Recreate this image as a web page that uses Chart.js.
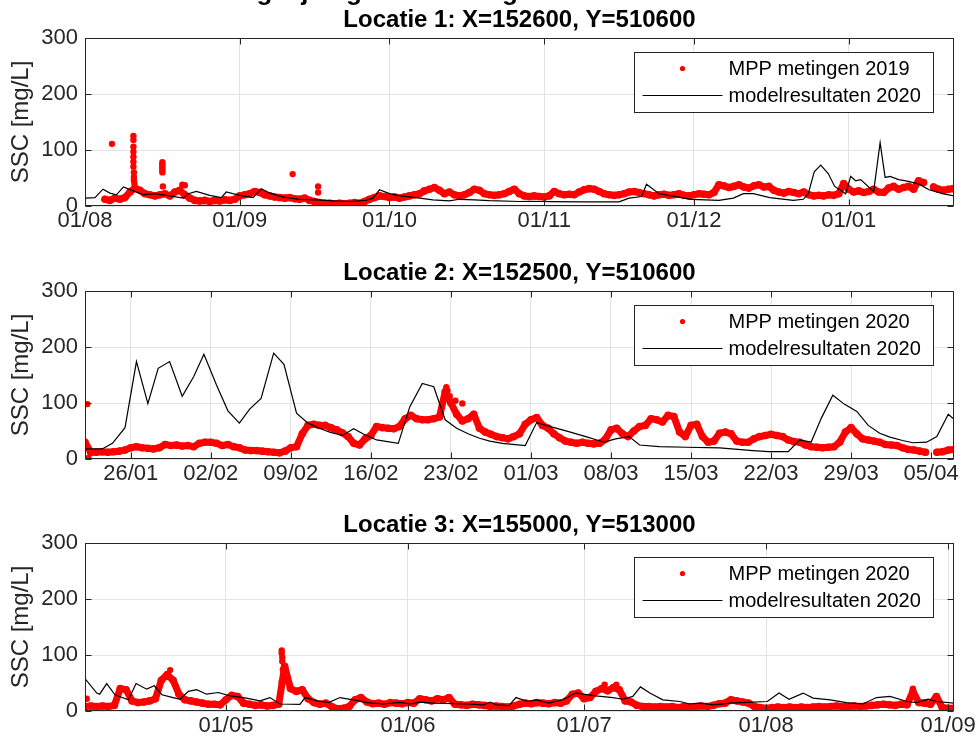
<!DOCTYPE html>
<html>
<head>
<meta charset="utf-8">
<script src="https://cdn.jsdelivr.net/npm/chart.js@4.4.1/dist/chart.umd.min.js"></script>
<style>
  html, body { margin: 0; padding: 0; background: #fff; }
  #wrap { position: relative; width: 976px; height: 742px; overflow: hidden; }
  canvas { position: absolute; left: 0; }
</style>
</head>
<body>
<div id="wrap">
  <canvas id="c1" width="976" height="237" style="top:0px"></canvas>
  <canvas id="c2" width="976" height="237" style="top:253px"></canvas>
  <canvas id="c3" width="976" height="237" style="top:505px"></canvas>
</div>
<script>
(() => {
  'use strict'

  const figTitle = 'Vergelijking MPP metingen en modelresultaten'
  const panelTitles = ['Locatie 1: X=152600, Y=510600', 'Locatie 2: X=152500, Y=510600', 'Locatie 3: X=155000, Y=513000']
  const measLabels = ['MPP metingen 2019', 'MPP metingen 2020', 'MPP metingen 2020']
  const modelLabel = 'modelresultaten 2020'
  const yLabel = 'SSC [mg/L]'
  const yTicks = [0, 100, 200, 300]

  // x range per panel: first date and length in days
  const startDates = ['2019-08-01', '2020-01-22', '2020-04-07']
  const spanDays = [174.1, 76, 148]
  const xTicks1 = ['2019-08-01', '2019-09-01', '2019-10-01', '2019-11-01', '2019-12-01', '2020-01-01']
  const xTicks2 = ['2020-01-26', '2020-02-02', '2020-02-09', '2020-02-16', '2020-02-23', '2020-03-01',
    '2020-03-08', '2020-03-15', '2020-03-22', '2020-03-29', '2020-04-05']
  const xTicks3 = ['2020-05-01', '2020-06-01', '2020-07-01', '2020-08-01', '2020-09-01']

  // MPP measurements, sampled from the plot (offset of first sample, step in days)
  const meas1Start = 4
  const meas1Step = 1
  const meas1 = [
    12, 10, 14, 12, 15, 25, 32, 28, 22, 20,
    18, 20, 22, 18, 25, 28, 20, 14, 10, 9,
    10, 8, 10, 9, 11, 10, 12, 18, 20, 22,
    26, 24, 20, 18, 16, 15, 14, 15, 13, 12,
    14, 10, 8, 6, 5, 5, 4, 5, 4, 5,
    6, 5, 8, 12, 15, 18, 17, 15, 16, 14,
    16, 18, 20, 22, 27, 30, 33, 28, 22, 25,
    20, 18, 20, 24, 30, 28, 22, 20, 19, 20,
    22, 26, 30, 22, 18, 17, 18, 17, 16, 18,
    26, 22, 20, 21, 20, 25, 29, 31, 30, 26,
    22, 20, 19, 20, 22, 25, 26, 24, 22, 20,
    18, 20, 21, 19, 20, 22, 19, 18, 20, 22,
    21, 20, 24, 38, 36, 33, 35, 38, 34, 32,
    36, 38, 34, 35, 28, 25, 23, 26, 24, 22,
    25, 20, 18, 19, 18, 20, 19, 22, 40, 30,
    25, 27, 24, 26, 30, 25, 24, 32, 35, 30,
    33, 35, 30, 45, 42, null, 34, 30, 28, 30, 31
  ]
  const meas2Start = 0
  const meas2Step = 0.5
  const meas2 = [
    30, 12, 12, 13, 12, 13, 14, 16, 20, 22,
    20, 19, 18, 20, 26, 24, 25, 23, 24, 22,
    28, 30, 30, 28, 24, 26, 22, 20, 16, 15,
    15, 14, 13, 12, 11, 14, 20, 22, 45, 60,
    62, 60, 60, 56, 52, 47, 40, 28, 25, 36,
    42, 58, 56, 55, 54, 58, 72, 78, 72, 70,
    70, 72, 75, 120, 100, 80, 68, 72, 80, 55,
    48, 44, 40, 38, 36, 40, 45, 62, 70, 74,
    60, 55, 45, 38, 32, 30, 28, 30, 28, 27,
    28, 35, 52, 55, 45, 40, 50, 58, 60, 72,
    70, 66, 78, 76, 48, 40, 60, 62, 40, 30,
    32, 46, 48, 45, 32, 30, 30, 36, 40, 42,
    44, 42, 40, 34, 31, 30, 25, 22, 21, 20,
    21, 22, 30, 48, 56, 45, 36, 34, 32, 30,
    26, 25, 24, 20, 17, 16, 14, 12, null, 12,
    13, 16, 17
  ]
  const meas3Start = 0
  const meas3Step = 1
  const meas3 = [
    8, 9, 8, 9, 8, 10, 40, 38, 18, 15,
    16, 18, 22, 55, 65, 55, 30, 20, 18, 16,
    14, 12, 12, 11, 20, 28, 26, 14, 12, 10,
    11, 9, 10, 12, 80, 40, 35, 38, 22, 15,
    12, 14, 8, 4, 5, 8, 20, 24, 16, 13,
    14, 12, 15, 14, 13, 15, 14, 22, 20, 18,
    22, 20, 24, 12, 11, 10, 12, 11, 10, 8,
    9, 8, 7, 9, 12, 14, 13, 15, 14, 13,
    15, 14, 18, 30, 32, 22, 24, 35, 40, 36,
    42, 38, 18, 16, 10, 8, 8, 7, 8, 7,
    8, 6, 8, 7, 8, 9, 8, 10, 13, 14,
    20, 18, 16, 14, 8, 6, 5, 6, 7, 6,
    7, 6, 7, 6, 7, 8, 7, 8, 9, 8,
    8, 9, 8, 9, 10, 11, 12, 11, 10, 12,
    11, 35, 15, 14, 12, 26, 6, 5, 5
  ]

  // isolated measurement dots [day offset, value]
  const extra1 = [[5.4, 111], [9.7, 125], [9.7, 118], [9.7, 106], [9.7, 97], [9.7, 88], [9.7, 79], [9.7, 70],
    [9.8, 60], [9.8, 52], [9.8, 46], [9.9, 40], [15.5, 78], [15.5, 74], [15.5, 71], [15.5, 67], [15.5, 64],
    [15.5, 60], [15.6, 35], [19.5, 38], [20, 37], [41.6, 57], [46.7, 35], [46.7, 24]]
  const extra2 = [[0.05, 28], [0.2, 98], [0.3, 2], [31.6, 128], [31.7, 122], [31.9, 112], [32.4, 104], [33, 99]]
  const extra3 = [[0.3, 22], [33.5, 108], [33.5, 103], [33.6, 96], [33.6, 89], [33.7, 74], [33.5, 52],
    [14.5, 73], [88.5, 47], [90.5, 47], [141, 40]]

  // model results: day offsets and values
  const modelDays1 = [0, 2, 3.6, 5, 6.3, 7.7, 11.7, 13.7, 16.3, 19.7, 20.7, 22.3, 25, 27.3, 28.3, 31, 33.7, 35.3,
    37, 39.7, 43, 46.3, 49.7, 53, 56.3, 57.7, 59, 61, 63, 66.3, 69.7, 73, 75, 78, 81, 87, 89, 93.5, 100, 107,
    109, 111.5, 112.5, 115, 117.5, 121.5, 127, 129.9, 131.9, 133.9, 137.2, 141.9, 143.9, 144.9, 146.1, 147.4,
    148.9, 150.2, 152.4, 153.4, 154.4, 155.4, 158, 159.3, 160.3, 161.3, 163, 165, 167.1, 169.1, 171.8, 174.1]
  const model1 = [14, 15, 30, 23, 20, 34, 20, 22, 19, 14, 22, 26, 19, 15, 25, 19, 15, 31,
    23, 16, 12, 11, 9, 8, 10, 14, 29, 22, 18, 15, 11, 9, 12, 11, 9.5, 8, 8.5, 7.8, 7.5, 7.5,
    14, 17, 39, 22, 18, 12, 10, 14, 22, 22, 15, 10, 12, 22, 61, 73,
    58, 35, 22, 53, 45, 47, 26, 113, 51, 53, 47, 44, 39, 29, 22, 18]
  const modelDays2 = [0, 1.5, 2.4, 3.5, 4.5, 5.5, 6.4, 7.4, 8.5, 9.5, 10.4, 11.5, 12.5, 13.5, 14.4, 15.4, 16.5,
    17.4, 18.5, 19.5, 20.5, 21.4, 22.5, 23.5, 24.5, 25.5, 27.4, 28.4, 29.5, 30.5, 31.5, 32.5, 33.5, 34.5, 35.4,
    36.5, 38.5, 39.5, 40.3, 42.3, 43.8, 45.4, 46.4, 47.6, 48.5, 50.2, 52.6, 55.5, 58.4, 59.8, 61.5, 62.5, 63.5,
    64.4, 65.4, 66.4, 67.5, 68.5, 69.5, 70.4, 71.5, 72.4, 73.6, 74.5, 75.5, 76]
  const model2 = [18, 18, 28, 56, 174, 99, 162, 174, 112, 147, 187, 132, 86, 64, 89, 108, 189,
    169, 82, 64, 55, 48, 42, 54, 43, 34, 28, 93, 135, 129, 70, 55, 45, 37, 32,
    28, 24, 65, 60, 49, 40, 30, 36, 40, 25, 22, 21, 20, 15, 13, 13, 34, 30,
    73, 114, 98, 85, 60, 46, 39, 33, 29, 30, 40, 80, 71]
  const modelDays3 = [0, 2, 2.5, 3.7, 5.1, 7.4, 8.7, 10.5, 11.8, 13.1, 15, 16.2, 17.6, 19, 20.7, 22.7, 24.7,
    27.5, 29.8, 31.5, 33.2, 36.6, 37.5, 39.5, 41.5, 43.4, 45.7, 48, 50.8, 53.7, 55.4, 57, 59.4, 65, 67.9, 69,
    70, 72.2, 73.4, 75.4, 76.8, 79, 81.3, 83.6, 84.8, 87, 89.9, 91.6, 93.3, 94.6, 96.2, 98.4, 101.3, 103, 104.7,
    107, 109.9, 112.7, 116.2, 118.2, 119.9, 122.3, 124, 126.9, 129.7, 132.5, 134.8, 137.1, 140, 141.6, 143.6,
    145, 148]
  const model3 = [58, 32, 30, 49, 29, 20, 49, 39, 45, 29, 24, 21, 35, 38, 30, 33, 27,
    23, 18, 24, 12.5, 12, 24, 18, 15, 24, 20, 15, 12.5, 15.5, 12.5, 16, 14, 12.5, 11, 16,
    11, 9.5, 24, 17, 20, 14, 20, 32, 30, 27, 24, 21, 26, 43, 32, 20, 17, 12.5, 14,
    11, 14, 15.5, 17, 32, 21, 32, 23, 20, 15, 12.5, 24, 26, 17, 15, 21,
    17, 14]

  const red = '#ff0000'
  const axisColor = '#262626'
  const gridColor = '#e3e3e3'
  const fontFamily = '"Liberation Sans", Arial, Helvetica, sans-serif'

  Chart.defaults.font.family = fontFamily

  const dayNum = s => Date.UTC(+s.slice(0, 4), +s.slice(5, 7) - 1, +s.slice(8, 10)) / 864e5
  const pad2 = n => String(n).padStart(2, '0')
  const fmtTick = v => {
    const d = new Date(Math.round(v) * 864e5)
    return pad2(d.getUTCDate()) + '/' + pad2(d.getUTCMonth() + 1)
  }

  // box, inward ticks, boxed legend and the clipped figure title (MATLAB look)
  const matlabAxes = {
    id: 'matlabAxes',
    afterDatasetsDraw (chart, args, opts) {
      const { ctx, chartArea: a, scales } = chart
      const L = Math.round(a.left) + 0.5
      const T = Math.round(a.top) + 0.5
      const R = Math.round(a.right) - 0.5
      const B = Math.round(a.bottom) - 0.5
      const tl = 6
      ctx.save()
      ctx.strokeStyle = axisColor
      ctx.lineWidth = 1
      ctx.beginPath()
      scales.x.ticks.forEach(t => {
        const px = Math.round(scales.x.getPixelForValue(t.value)) + 0.5
        ctx.moveTo(px, B); ctx.lineTo(px, B - tl)
        ctx.moveTo(px, T); ctx.lineTo(px, T + tl)
      })
      scales.y.ticks.forEach(t => {
        const py = Math.round(scales.y.getPixelForValue(t.value)) + 0.5
        ctx.moveTo(L, py); ctx.lineTo(L + tl, py)
        ctx.moveTo(R, py); ctx.lineTo(R - tl, py)
      })
      ctx.stroke()
      ctx.strokeRect(L, T, R - L, B - T)

      // legend
      const items = chart.data.datasets.filter(d => d.label).sort((p, q) => p.legendRank - q.legendRank)
      const bx = Math.round(a.right) - 320 + 0.5
      const by = Math.round(a.top) + 14 + 0.5
      ctx.fillStyle = '#fff'
      ctx.fillRect(bx, by, 299, 60)
      ctx.strokeRect(bx, by, 299, 60)
      ctx.font = '20px ' + fontFamily
      ctx.textBaseline = 'middle'
      ctx.textAlign = 'left'
      items.forEach((d, k) => {
        const ry = by + 16 + k * 27
        if (d.legendMarker === 'dot') {
          ctx.fillStyle = red
          ctx.beginPath()
          ctx.arc(bx + 48, ry, 2.6, 0, Math.PI * 2)
          ctx.fill()
        } else {
          ctx.strokeStyle = '#000'
          ctx.lineWidth = 1.2
          ctx.beginPath()
          ctx.moveTo(bx + 8, ry); ctx.lineTo(bx + 88, ry)
          ctx.stroke()
        }
        ctx.fillStyle = '#000'
        ctx.fillText(d.label, bx + 94, ry + 1)
      })
      ctx.restore()
    },
    afterDraw (chart, args, opts) {
      if (!opts.supTitle) return
      const { ctx } = chart
      ctx.save()
      ctx.font = 'bold 26px ' + fontFamily
      ctx.fillStyle = '#000'
      ctx.textAlign = 'center'
      ctx.textBaseline = 'alphabetic'
      ctx.fillText(opts.supTitle, 505, 0)
      ctx.restore()
    }
  }

  const panels = [
    { id: 'c1', meas: meas1, measStart: meas1Start, measStep: meas1Step, extra: extra1, modelDays: modelDays1, model: model1, ticks: xTicks1 },
    { id: 'c2', meas: meas2, measStart: meas2Start, measStep: meas2Step, extra: extra2, modelDays: modelDays2, model: model2, ticks: xTicks2 },
    { id: 'c3', meas: meas3, measStart: meas3Start, measStep: meas3Step, extra: extra3, modelDays: modelDays3, model: model3, ticks: xTicks3 }
  ]

  panels.forEach((p, i) => {
    const x0 = dayNum(startDates[i])
    const measPts = p.meas.map((v, k) => ({ x: x0 + p.measStart + k * p.measStep, y: v }))
    const extraPts = p.extra.map(([d, v]) => ({ x: x0 + d, y: v }))
    const modelPts = p.modelDays.map((d, k) => ({ x: x0 + d, y: p.model[k] }))

    // eslint-disable-next-line no-new
    new Chart(document.getElementById(p.id), {
      type: 'line',
      data: {
        datasets: [
          {
            label: modelLabel,
            data: modelPts,
            borderColor: '#000',
            borderWidth: 1.2,
            pointRadius: 0,
            tension: 0,
            clip: 0,
            order: 0,
            legendRank: 1,
            legendMarker: 'line'
          },
          {
            label: measLabels[i],
            data: measPts,
            borderColor: red,
            backgroundColor: red,
            pointBackgroundColor: red,
            borderWidth: 7,
            borderJoinStyle: 'round',
            borderCapStyle: 'round',
            pointRadius: 3.8,
            pointBorderWidth: 0,
            spanGaps: false,
            tension: 0,
            clip: 0,
            order: 1,
            legendRank: 0,
            legendMarker: 'dot'
          },
          {
            label: '',
            data: extraPts,
            showLine: false,
            pointBackgroundColor: red,
            pointRadius: 3.2,
            pointBorderWidth: 0,
            clip: 0,
            order: 2
          }
        ]
      },
      options: {
        responsive: false,
        animation: false,
        devicePixelRatio: 1,
        layout: { padding: { left: 0, right: 22, top: 0, bottom: 0 } },
        scales: {
          x: {
            type: 'linear',
            min: x0,
            max: x0 + spanDays[i],
            bounds: 'data',
            border: { display: false },
            grid: { color: gridColor, drawTicks: false },
            afterBuildTicks: s => { s.ticks = p.ticks.map(t => ({ value: dayNum(t) })) },
            afterFit: s => { s.height = 31; s.paddingLeft = 0; s.paddingRight = 0 },
            ticks: {
              autoSkip: false,
              maxRotation: 0,
              padding: 2,
              color: axisColor,
              font: { size: 22 },
              callback: v => fmtTick(v)
            }
          },
          y: {
            type: 'linear',
            min: 0,
            max: 300,
            border: { display: false },
            grid: { color: gridColor, drawTicks: false },
            afterBuildTicks: s => { s.ticks = yTicks.map(v => ({ value: v })) },
            afterFit: s => { s.width = 85; s.paddingTop = 0; s.paddingBottom = 0 },
            ticks: { padding: 7, color: axisColor, font: { size: 22 }, callback: v => String(v) },
            title: {
              display: true,
              text: yLabel,
              color: axisColor,
              font: { size: 24 },
              padding: { top: 7, bottom: 0 }
            }
          }
        },
        plugins: {
          legend: { display: false },
          tooltip: { enabled: false },
          title: {
            display: true,
            text: panelTitles[i],
            fullSize: false,
            color: '#000',
            font: { size: 24, weight: 'bold', lineHeight: 1 },
            padding: { top: 8, bottom: 6 }
          },
          matlabAxes: { supTitle: i === 0 ? figTitle : '' }
        }
      },
      plugins: [matlabAxes]
    })
  })
})()
</script>
</body>
</html>
